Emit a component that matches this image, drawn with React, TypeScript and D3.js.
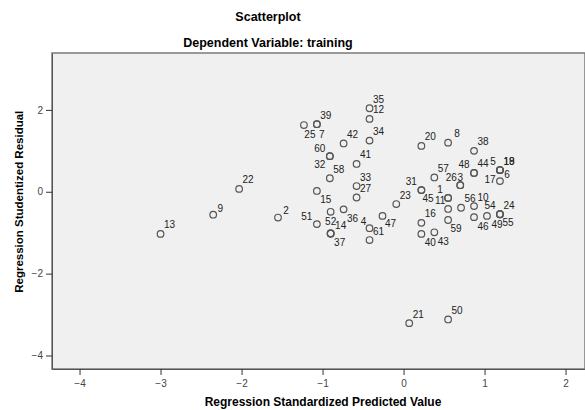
import React, { useRef, useEffect } from 'react';
import * as d3 from 'd3';

// case numbers with their predicted value (x) and studentized residual (y)
const caseIds = [
  1, 2, 3, 4, 5, 6, 7, 8, 9, 10, 11, 12, 13, 14, 15, 16, 17, 18, 19, 20,
  21, 22, 23, 24, 25, 26, 27, 28, 31, 32, 33, 34, 35, 36, 37, 38, 39, 40,
  41, 42, 43, 44, 45, 46, 47, 48, 49, 50, 51, 52, 53, 54, 55, 56, 57, 58,
  59, 60, 61,
];
const predicted = [
  0.55, -1.55, 0.70, -0.42, 1.19, 1.19, -1.07, 0.55, -2.35, 0.87, 0.55, -0.42, -3.0, -0.90, -1.07, 0.22, 1.19, 1.19, 1.19, 0.22,
  0.07, -2.03, -0.09, 1.19, -1.23, 0.70, -0.58, 0.22, 0.22, -0.91, -0.58, -0.42, -0.42, -0.74, -0.90, 0.87, -1.07, 0.22,
  -0.58, -0.74, 0.38, 0.87, 0.55, 0.87, -0.26, 0.87, 1.19, 0.55, -1.07, -0.90, -0.90, 1.03, 1.19, 0.71, 0.38, -0.91,
  0.55, -0.91, -0.42,
];
const residual = [
  -0.15, -0.63, 0.16, -1.18, 0.53, 0.53, 1.65, 1.20, -0.56, -0.35, -0.42, 1.78, -1.03, -1.02, 0.02, -0.76, 0.26, 0.53, 0.53, 1.12,
  -3.21, 0.07, -0.30, -0.55, 1.63, 0.16, -0.14, 0.04, 0.04, 0.87, 0.14, 1.25, 2.04, -0.43, -1.02, 1.00, 1.65, -1.03,
  0.68, 1.18, -0.99, 0.46, -0.15, -0.62, -0.59, 0.46, -0.55, -3.12, -0.79, -1.02, -0.49, -0.59, -0.55, -0.39, 0.35, 0.33,
  -0.69, 0.87, -0.89,
];
// cases whose label is hidden by overlap in the original
const hiddenLabels = [28, 53];

const xTicks = [-4, -3, -2, -1, 0, 1, 2];
const yTicks = [-4, -2, 0, 2];

// label placement relative to its point (px), default is up-right
const labelNudge: Record<number, [number, number]> = {
  1: [-8, -8], 2: [8, -7], 3: [0, -8], 4: [-6, -19], 5: [-7, -9], 6: [7, 4],
  7: [5, 10], 9: [7, -6], 11: [-8, -8], 14: [10, -8], 15: [9, 9], 17: [-10, -2],
  25: [6, 9], 26: [-9, -8], 31: [-10, -9], 32: [-10, 8], 36: [9, 9], 37: [9, 9],
  40: [9, 9], 43: [9, 9], 45: [-20, 1], 46: [9, 9], 47: [8, 8], 48: [-10, -8],
  49: [-3, 10], 51: [-10, -8], 52: [0, -12], 54: [3, -10], 55: [8, 8], 59: [8, 8],
  60: [-10, -8], 61: [9, 3],
};

const width = 585;
const height = 410;
const margin = { top: 53, right: 0, bottom: 41, left: 52 };

export default function App() {
  const svgRef = useRef<SVGSVGElement>(null);

  useEffect(() => {
    if (!svgRef.current) return;
    const svg = d3.select(svgRef.current);
    svg.selectAll('*').remove();

    const x = d3.scaleLinear().domain([-4.34, 2.24]).range([margin.left, width - margin.right]);
    const y = d3.scaleLinear().domain([-4.33, 3.39]).range([height - margin.bottom, margin.top]);

    const font = 'Liberation Sans, Arial, sans-serif';

    // titles
    svg.append('text').attr('x', 268).attr('y', 21).attr('text-anchor', 'middle')
      .attr('font-family', font).attr('font-size', 12.5).attr('font-weight', 'bold')
      .text('Scatterplot');
    svg.append('text').attr('x', 268).attr('y', 47).attr('text-anchor', 'middle')
      .attr('font-family', font).attr('font-size', 12.5).attr('font-weight', 'bold')
      .text('Dependent Variable: training');

    // plot background
    svg.append('rect')
      .attr('x', margin.left).attr('y', margin.top)
      .attr('width', width - margin.left - margin.right)
      .attr('height', height - margin.top - margin.bottom)
      .attr('fill', '#f0f0f0').attr('stroke', '#7a7a7a').attr('stroke-width', 1.5);

    // axes
    const xAxis = svg.append('g')
      .attr('transform', `translate(0,${height - margin.bottom})`)
      .call(d3.axisBottom(x).tickValues(xTicks).tickSize(6).tickSizeOuter(0).tickFormat(d3.format('d')));
    const yAxis = svg.append('g')
      .attr('transform', `translate(${margin.left},0)`)
      .call(d3.axisLeft(y).tickValues(yTicks).tickSize(6).tickSizeOuter(0).tickFormat(d3.format('d')));
    [xAxis, yAxis].forEach((g) => {
      g.select('.domain').attr('stroke', '#555');
      g.selectAll('.tick line').attr('stroke', '#333');
      g.selectAll('.tick text').attr('font-family', font).attr('font-size', 10).attr('fill', '#444');
    });
    xAxis.selectAll('.tick text').attr('dy', '0.9em');

    svg.append('text').attr('x', 323).attr('y', 406).attr('text-anchor', 'middle')
      .attr('font-family', font).attr('font-size', 12).attr('font-weight', 'bold')
      .text('Regression Standardized Predicted Value');
    svg.append('text').attr('transform', `translate(23,${y(0) + 10}) rotate(-90)`)
      .attr('text-anchor', 'middle')
      .attr('font-family', font).attr('font-size', 11.5).attr('font-weight', 'bold')
      .text('Regression Studentized Residual');

    const pts = caseIds.map((id, i) => ({ id, px: predicted[i], r: residual[i] }));

    const g = svg.append('g');
    g.selectAll('circle').data(pts).enter().append('circle')
      .attr('cx', (d) => x(d.px)).attr('cy', (d) => y(d.r)).attr('r', 3.3)
      .attr('fill', 'none').attr('stroke', '#555').attr('stroke-width', 1.2);

    g.selectAll('text.lbl').data(pts.filter((d) => !hiddenLabels.includes(d.id))).enter()
      .append('text').attr('class', 'lbl')
      .attr('x', (d) => x(d.px) + (labelNudge[d.id] ? labelNudge[d.id][0] : 9))
      .attr('y', (d) => y(d.r) + (labelNudge[d.id] ? labelNudge[d.id][1] : -9))
      .attr('text-anchor', 'middle').attr('dominant-baseline', 'central')
      .attr('font-family', font).attr('font-size', 10).attr('fill', '#222')
      .text((d) => String(d.id));
  }, []);

  return (
    <div style={{ position: 'absolute', left: 0, top: 0 }}>
      <svg ref={svgRef} width={width} height={height} style={{ display: 'block', background: '#fff' }} />
    </div>
  );
}
